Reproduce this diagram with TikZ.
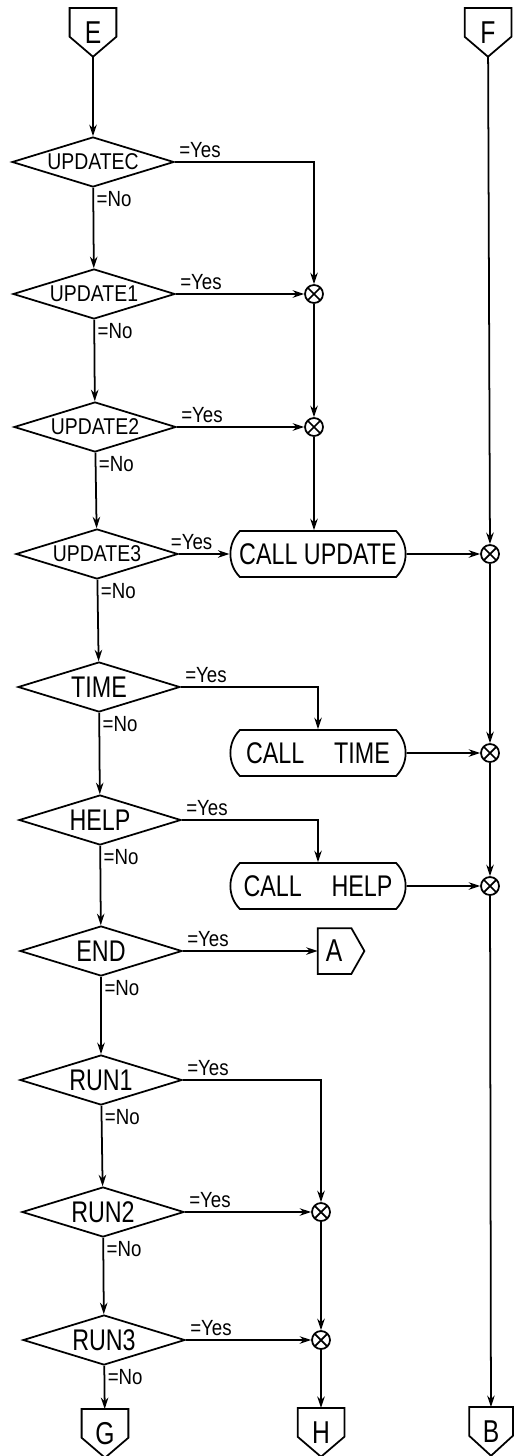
\documentclass[tikz,border=0pt]{standalone}
\usepackage{fontspec}
\setmainfont[FakeStretch=0.85]{Liberation Sans}
\newfontfamily\narrowsf[FakeStretch=0.78]{Liberation Sans}
\usetikzlibrary{shapes.geometric,shapes.misc,arrows.meta}

\begin{document}
\begin{tikzpicture}[x=0.02cm,y=-0.02cm,line width=1pt,
        >={Stealth[length=2.3mm,width=1.5mm]},
        test/.style={draw,diamond,aspect=3.2,minimum width=3.24cm,minimum height=1cm,
            inner sep=0pt,font=\fontsize{17}{20}\narrowsf},
        testsm/.style={test,font=\fontsize{13}{15}\selectfont},
        callbox/.style={draw,rounded rectangle,rounded rectangle arc length=90,
            minimum width=3.74cm,minimum height=0.92cm,font=\fontsize{17}{20}\narrowsf},
        % off-page connector, point down
        offpage/.style={minimum width=0.9cm,minimum height=0.94cm,inner sep=0pt,
            font=\fontsize{18}{20}\narrowsf,
            append after command={\pgfextra{\draw (\tikzlastnode.north west) -- (\tikzlastnode.north east)
                -- ([yshift=0.4cm]\tikzlastnode.south east) -- (\tikzlastnode.south)
                -- ([yshift=0.4cm]\tikzlastnode.south west) -- cycle;}}},
        % off-page connector, point right
        offright/.style={minimum width=0.9cm,minimum height=0.88cm,inner sep=0pt,
            font=\fontsize{18}{20}\narrowsf,
            append after command={\pgfextra{\draw (\tikzlastnode.north west) -- ([xshift=-0.26cm]\tikzlastnode.north east)
                -- (\tikzlastnode.east) -- ([xshift=-0.26cm]\tikzlastnode.south east)
                -- (\tikzlastnode.south west) -- cycle;}}},
        merge/.style={draw,circle,minimum size=0.36cm,inner sep=0pt,
            path picture={\draw (path picture bounding box.south west) -- (path picture bounding box.north east)
                (path picture bounding box.north west) -- (path picture bounding box.south east);}},
        yeslab/.style={anchor=south west,inner sep=2pt,font=\fontsize{12.5}{15}\selectfont},
        nolab/.style={anchor=north west,inner sep=1.5pt,font=\fontsize{12.5}{15}\selectfont}]
    \useasboundingbox (0,0) rectangle (514,1456);

    % entry points
    \node[offpage,anchor=north] (E) at (93,8) {E};
    \node[offpage,anchor=north] (F) at (488,8) {F};

    % keyword tests down the left column
    \node[testsm] (updC) at (93,162) {UPDATEC};
    \node[testsm] (upd1) at (94,294) {UPDATE1};
    \node[testsm] (upd2) at (95,427) {UPDATE2};
    \node[testsm] (upd3) at (97,554) {UPDATE3};
    \node[test] (time) at (99,687) {TIME};
    \node[test] (help) at (100,820) {HELP};
    \node[test] (end) at (101,951) {END};
    \node[test] (run1) at (101,1080) {RUN1};
    \node[test] (run2) at (103,1212) {RUN2};
    \node[test] (run3) at (104,1340) {RUN3};

    % calls
    \node[callbox] (callU) at (318,554) {CALL UPDATE};
    \node[callbox] (callT) at (318,753) {CALL\quad TIME};
    \node[callbox] (callH) at (318,886) {CALL\quad HELP};

    % junctions
    \node[merge] (c1) at (314,294) {};
    \node[merge] (c2) at (314,427) {};
    \node[merge] (c3) at (490,554) {};
    \node[merge] (c4) at (490,753) {};
    \node[merge] (c5) at (490,886) {};
    \node[merge] (c6) at (321,1212) {};
    \node[merge] (c7) at (321,1340) {};

    % exits
    \node[offright] (A) at (341,951) {\kern-0.28cm A};
    \node[offpage,anchor=north] (G) at (105,1409) {G};
    \node[offpage,anchor=north] (H) at (321,1408) {H};
    \node[offpage,anchor=north,minimum width=0.84cm] (B) at (491,1407) {B};

    % No branches
    \draw[->] (E) -- (updC);
    \draw[->] (updC) -- (upd1) node[pos=0,nolab] {=No};
    \draw[->] (upd1) -- (upd2) node[pos=0,nolab] {=No};
    \draw[->] (upd2) -- (upd3) node[pos=0,nolab] {=No};
    \draw[->] (upd3) -- (time) node[pos=0,nolab] {=No};
    \draw[->] (time) -- (help) node[pos=0,nolab] {=No};
    \draw[->] (help) -- (end) node[pos=0,nolab] {=No};
    \draw[->] (end) -- (run1) node[pos=0,nolab] {=No};
    \draw[->] (run1) -- (run2) node[pos=0,nolab] {=No};
    \draw[->] (run2) -- (run3) node[pos=0,nolab] {=No};
    \draw[->] (run3) -- (G) node[pos=0,nolab] {=No};

    % Yes branches
    \draw[->] (updC.east) -| (c1) node[pos=0,yeslab] {=Yes};
    \draw[->] (upd1.east) -- (c1) node[pos=0,yeslab] {=Yes};
    \draw[->] (upd2.east) -- (c2) node[pos=0,yeslab] {=Yes};
    \draw[->] (upd3.east) -- (callU.west) node[pos=0,yeslab,xshift=-7pt] {=Yes};
    \draw[->] (time.east) -| (callT) node[pos=0,yeslab] {=Yes};
    \draw[->] (help.east) -| (callH) node[pos=0,yeslab] {=Yes};
    \draw[->] (end.east) -- (A.west) node[pos=0,yeslab] {=Yes};
    \draw[->] (run1.east) -| (c6) node[pos=0,yeslab] {=Yes};
    \draw[->] (run2.east) -- (c6) node[pos=0,yeslab] {=Yes};
    \draw[->] (run3.east) -- (c7) node[pos=0,yeslab] {=Yes};

    % merging lines
    \draw[->] (c1) -- (c2);
    \draw[->] (c2) -- (c2 |- callU.north);
    \draw[->] (callU) -- (c3);
    \draw[->] (callT) -- (c4);
    \draw[->] (callH) -- (c5);
    \draw[->] (F) -- (c3);
    \draw[->] (c3) -- (c4);
    \draw[->] (c4) -- (c5);
    \draw[->] (c5) -- (B);
    \draw[->] (c6) -- (c7);
    \draw[->] (c7) -- (H);
\end{tikzpicture}
\end{document}
